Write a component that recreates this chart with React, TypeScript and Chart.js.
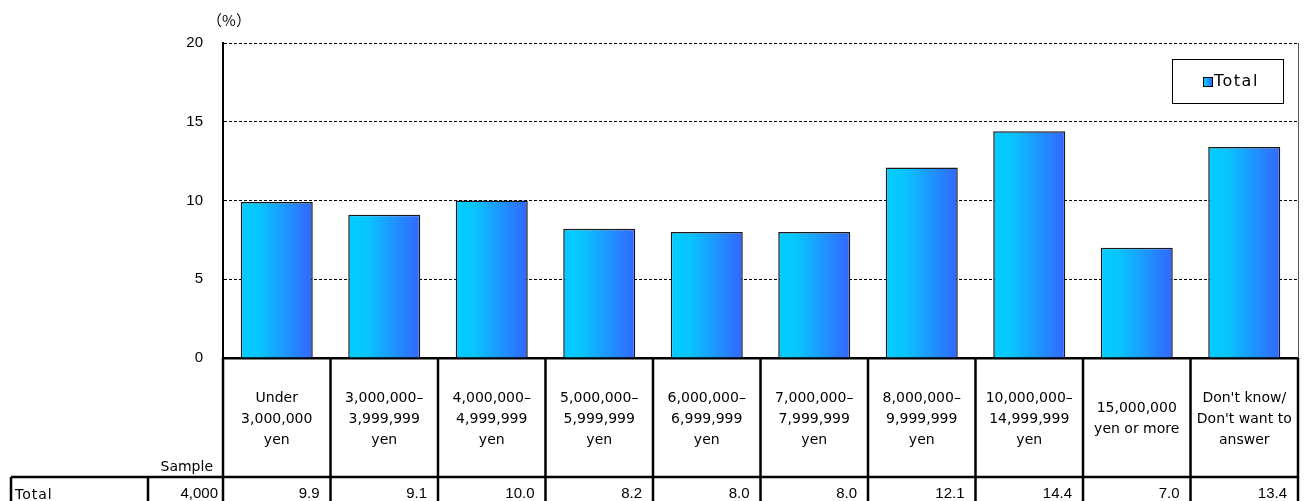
import React, { useEffect, useRef } from "react";
import { Chart, registerables } from "chart.js";

Chart.register(...registerables);

// Household income brackets (column headers of the table under the chart)
const categories: string[][] = [
  ["Under", "3,000,000", "yen"],
  ["3,000,000–", "3,999,999", "yen"],
  ["4,000,000–", "4,999,999", "yen"],
  ["5,000,000–", "5,999,999", "yen"],
  ["6,000,000–", "6,999,999", "yen"],
  ["7,000,000–", "7,999,999", "yen"],
  ["8,000,000–", "9,999,999", "yen"],
  ["10,000,000–", "14,999,999", "yen"],
  ["15,000,000", "yen or more"],
  ["Don't know/", "Don't want to", "answer"],
];

// Share of respondents (%)
const totalValues: number[] = [9.9, 9.1, 10.0, 8.2, 8.0, 8.0, 12.1, 14.4, 7.0, 13.4];

const seriesLabel = "Total";
const sampleLabel = "Sample";
const sampleSize = "4,000";
const unitLabel = "（%）";

const yMin = 0;
const yMax = 20;
const yStep = 5;

const BAR_PCT = 0.67;
const LABEL_FONT = "14px 'DejaVu Sans'";
const NUM_FONT = "15px 'Liberation Sans'";

function barGradient(ctx: CanvasRenderingContext2D, x0: number, x1: number) {
  const g = ctx.createLinearGradient(x0, 0, x1, 0);
  g.addColorStop(0, "#00CCFF");
  g.addColorStop(0.25, "#08C6FF");
  g.addColorStop(1, "#3366FF");
  return g;
}

// Table, legend and frame drawn around the chart area
const tablePlugin = {
  id: "incomeTable",
  afterDraw(chart: any) {
    const { ctx, chartArea, scales } = chart;
    const { left, right, top, bottom } = chartArea;
    const n = categories.length;
    const colW = (right - left) / n;
    const H = chart.height;
    const rowTop = 477;

    ctx.save();

    // thin right frame of the plot
    ctx.strokeStyle = "#555";
    ctx.lineWidth = 1;
    ctx.beginPath();
    ctx.moveTo(right + 0.5, top);
    ctx.lineTo(right + 0.5, bottom);
    ctx.stroke();

    // unit label
    ctx.fillStyle = "#000";
    ctx.font = "15px 'Noto Sans CJK JP'";
    ctx.textAlign = "center";
    ctx.textBaseline = "middle";
    ctx.fillText(unitLabel, left + 6, 20);

    // legend
    const lx0 = 1172, lx1 = 1283, ly0 = 59, ly1 = 103;
    ctx.fillStyle = "#fff";
    ctx.fillRect(lx0, ly0, lx1 - lx0, ly1 - ly0);
    ctx.strokeStyle = "#000";
    ctx.lineWidth = 1;
    ctx.strokeRect(lx0 + 0.5, ly0 + 0.5, lx1 - lx0, ly1 - ly0);
    ctx.fillStyle = barGradient(ctx, 1203, 1212);
    ctx.fillRect(1203, 77, 9, 9);
    ctx.strokeRect(1203.5, 77.5, 9, 9);
    ctx.fillStyle = "#000";
    ctx.font = "16px 'DejaVu Sans'";
    ctx.textAlign = "left";
    (ctx as any).letterSpacing = "1.5px";
    ctx.fillText(seriesLabel, 1214, 82);
    (ctx as any).letterSpacing = "0px";

    // table grid
    ctx.strokeStyle = "#000";
    ctx.lineWidth = 2.5;
    ctx.beginPath();
    for (let k = 0; k <= n; k++) {
      const x = k === n ? right : scales.x.getPixelForValue(k) - colW / 2;
      ctx.moveTo(x, bottom);
      ctx.lineTo(x, H);
    }
    ctx.moveTo(11, rowTop);
    ctx.lineTo(right + 1, rowTop);
    ctx.moveTo(11, rowTop);
    ctx.lineTo(11, H);
    ctx.moveTo(148, rowTop);
    ctx.lineTo(148, H);
    ctx.stroke();

    // column headers
    ctx.fillStyle = "#000";
    ctx.font = LABEL_FONT;
    ctx.textAlign = "center";
    ctx.textBaseline = "middle";
    const midY = 419;
    const lh = 21;
    categories.forEach((lines, i) => {
      const cx = scales.x.getPixelForValue(i);
      const y0 = midY - ((lines.length - 1) * lh) / 2;
      lines.forEach((t, j) => ctx.fillText(t, cx, y0 + j * lh));
    });

    // sample header
    ctx.textAlign = "right";
    ctx.fillText(sampleLabel, 213, 467);

    // data row
    ctx.textAlign = "left";
    (ctx as any).letterSpacing = "1px";
    ctx.fillText(seriesLabel, 15, 495);
    (ctx as any).letterSpacing = "0px";
    ctx.font = NUM_FONT;
    ctx.textAlign = "right";
    ctx.fillText(sampleSize, 218, 494);
    totalValues.forEach((v, i) => {
      const xr = scales.x.getPixelForValue(i) + colW / 2 - 11;
      ctx.fillText(v.toFixed(1), xr, 494);
    });

    ctx.restore();
  },
};

export default function App() {
  const ref = useRef<HTMLCanvasElement | null>(null);

  useEffect(() => {
    if (!ref.current) return;
    const chart = new Chart(ref.current, {
      type: "bar",
      data: {
        labels: categories.map((c) => c.join(" ")),
        datasets: [
          {
            label: seriesLabel,
            data: totalValues,
            backgroundColor: (c: any) => {
              const ch = c.chart;
              const area = ch.chartArea;
              if (!area || c.dataIndex === undefined) return "#1A99FF";
              const colW = (area.right - area.left) / categories.length;
              const cx = ch.scales.x.getPixelForValue(c.dataIndex);
              const half = (colW * BAR_PCT) / 2;
              return barGradient(ch.ctx, cx - half, cx + half);
            },
            borderColor: "#1a1a1a",
            borderWidth: 1.5,
            categoryPercentage: 1,
            barPercentage: BAR_PCT,
          },
        ],
      },
      options: {
        responsive: false,
        animation: false,
        events: [],
        layout: { padding: { top: 43, right: 7, left: 0, bottom: 0 } },
        plugins: {
          legend: { display: false },
          tooltip: { enabled: false },
          title: { display: false },
        },
        scales: {
          x: {
            grid: { display: false },
            ticks: { display: false },
            border: { display: true, color: "#000", width: 2.5 },
            afterFit: (s: any) => {
              s.height = 143;
            },
          },
          y: {
            min: yMin,
            max: yMax,
            ticks: {
              stepSize: yStep,
              color: "#000",
              padding: 20,
              font: { family: "'Liberation Sans'", size: 15 },
            },
            grid: {
              color: (c: any) => (c.tick && c.tick.value === yMin ? "transparent" : "#000"),
              lineWidth: 1,
              drawTicks: false,
            },
            border: { display: true, color: "#000", width: 2, dash: [3, 2] },
            afterFit: (s: any) => {
              s.width = 223;
            },
          },
        },
      },
      plugins: [tablePlugin],
    });
    return () => chart.destroy();
  }, []);

  return (
    <div style={{ position: "fixed", left: 0, top: 0, width: 1305, height: 501, background: "#fff" }}>
      <canvas ref={ref} width={1305} height={501} style={{ display: "block" }} />
    </div>
  );
}
